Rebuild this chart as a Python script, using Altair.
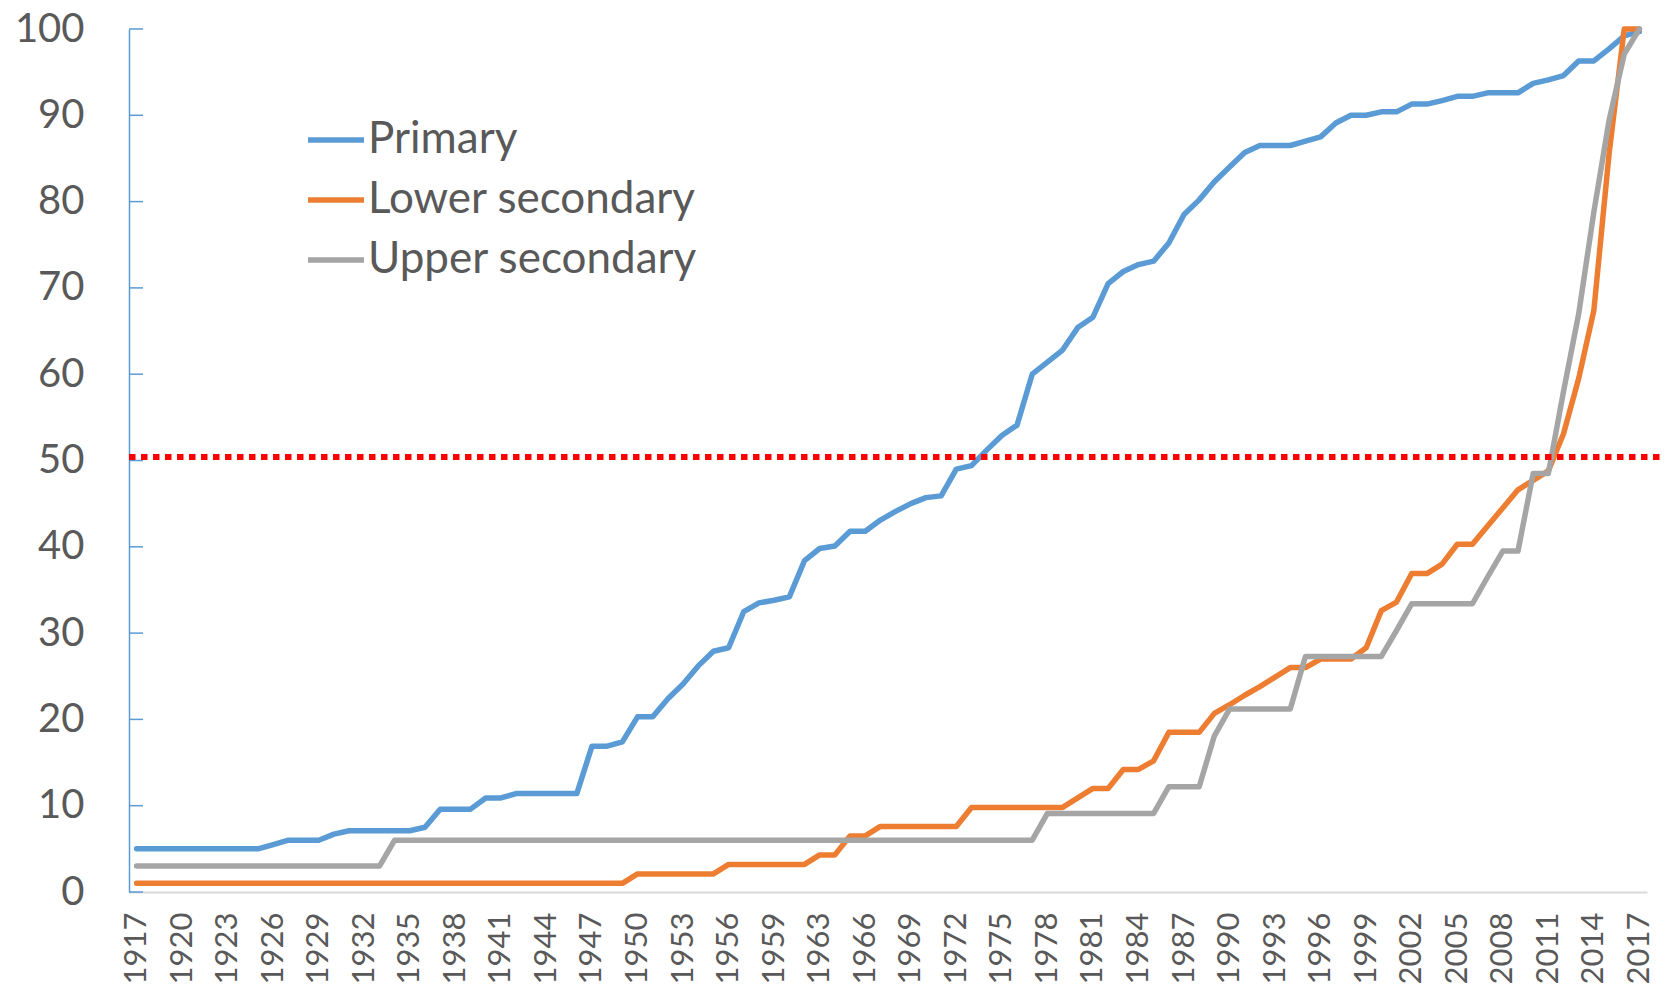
import altair as alt
import pandas as pd

# Categories (one year between 1960 and 1962 is absent in the source axis)
years = [
    1917, 1918, 1919, 1920, 1921, 1922, 1923, 1924, 1925, 1926,
    1927, 1928, 1929, 1930, 1931, 1932, 1933, 1934, 1935, 1936,
    1937, 1938, 1939, 1940, 1941, 1942, 1943, 1944, 1945, 1946,
    1947, 1948, 1949, 1950, 1951, 1952, 1953, 1954, 1955, 1956,
    1957, 1958, 1959, 1960, 1962, 1963, 1964, 1965, 1966, 1967,
    1968, 1969, 1970, 1971, 1972, 1973, 1974, 1975, 1976, 1977,
    1978, 1979, 1980, 1981, 1982, 1983, 1984, 1985, 1986, 1987,
    1988, 1989, 1990, 1991, 1992, 1993, 1994, 1995, 1996, 1997,
    1998, 1999, 2000, 2001, 2002, 2003, 2004, 2005, 2006, 2007,
    2008, 2009, 2010, 2011, 2012, 2013, 2014, 2015, 2016, 2017,
]

primary = [
    5.0, 5.0, 5.0, 5.0, 5.0, 5.0, 5.0, 5.0, 5.0, 5.5,
    6.0, 6.0, 6.0, 6.7, 7.1, 7.1, 7.1, 7.1, 7.1, 7.5,
    9.6, 9.6, 9.6, 10.9, 10.9, 11.4, 11.4, 11.4, 11.4, 11.4,
    16.9, 16.9, 17.4, 20.3, 20.3, 22.4, 24.1, 26.2, 27.9, 28.3,
    32.5, 33.5, 33.8, 34.2, 38.4, 39.8, 40.1, 41.8, 41.8, 43.1,
    44.1, 45.0, 45.7, 45.9, 49.0, 49.4, 51.2, 52.9, 54.1, 60.0,
    61.4, 62.8, 65.4, 66.6, 70.5, 71.9, 72.7, 73.1, 75.2, 78.5,
    80.2, 82.3, 84.0, 85.7, 86.5, 86.5, 86.5, 87.0, 87.5, 89.1,
    90.0, 90.0, 90.4, 90.4, 91.3, 91.3, 91.7, 92.2, 92.2, 92.6,
    92.6, 92.6, 93.7, 94.1, 94.6, 96.3, 96.3, 97.7, 99.2, 99.7,
]

lower_secondary = [
    1.0, 1.0, 1.0, 1.0, 1.0, 1.0, 1.0, 1.0, 1.0, 1.0,
    1.0, 1.0, 1.0, 1.0, 1.0, 1.0, 1.0, 1.0, 1.0, 1.0,
    1.0, 1.0, 1.0, 1.0, 1.0, 1.0, 1.0, 1.0, 1.0, 1.0,
    1.0, 1.0, 1.0, 2.1, 2.1, 2.1, 2.1, 2.1, 2.1, 3.2,
    3.2, 3.2, 3.2, 3.2, 3.2, 4.3, 4.3, 6.5, 6.5, 7.6,
    7.6, 7.6, 7.6, 7.6, 7.6, 9.8, 9.8, 9.8, 9.8, 9.8,
    9.8, 9.8, 10.9, 12.0, 12.0, 14.2, 14.2, 15.2, 18.5, 18.5,
    18.5, 20.7, 21.7, 22.8, 23.8, 24.9, 26.0, 26.0, 27.0, 27.0,
    27.0, 28.3, 32.6, 33.6, 36.9, 36.9, 38.0, 40.3, 40.3, 42.4,
    44.5, 46.6, 47.7, 48.8, 53.1, 59.5, 67.4, 85.5, 100.0, 100.0,
]

upper_secondary = [
    3.0, 3.0, 3.0, 3.0, 3.0, 3.0, 3.0, 3.0, 3.0, 3.0,
    3.0, 3.0, 3.0, 3.0, 3.0, 3.0, 3.0, 6.0, 6.0, 6.0,
    6.0, 6.0, 6.0, 6.0, 6.0, 6.0, 6.0, 6.0, 6.0, 6.0,
    6.0, 6.0, 6.0, 6.0, 6.0, 6.0, 6.0, 6.0, 6.0, 6.0,
    6.0, 6.0, 6.0, 6.0, 6.0, 6.0, 6.0, 6.0, 6.0, 6.0,
    6.0, 6.0, 6.0, 6.0, 6.0, 6.0, 6.0, 6.0, 6.0, 6.0,
    9.1, 9.1, 9.1, 9.1, 9.1, 9.1, 9.1, 9.1, 12.2, 12.2,
    12.2, 18.1, 21.2, 21.2, 21.2, 21.2, 21.2, 27.3, 27.3, 27.3,
    27.3, 27.3, 27.3, 30.3, 33.4, 33.4, 33.4, 33.4, 33.4, 36.5,
    39.5, 39.5, 48.5, 48.5, 58.0, 67.0, 78.8, 89.4, 97.1, 100.0,
]

series_names = ["Primary", "Lower secondary", "Upper secondary"]
series_colors = ["#5B9BD5", "#ED7D31", "#A5A5A5"]

x_label_years = [
    1917, 1920, 1923, 1926, 1929, 1932, 1935, 1938, 1941, 1944, 1947,
    1950, 1953, 1956, 1959, 1963, 1966, 1969, 1972, 1975, 1978, 1981,
    1984, 1987, 1990, 1993, 1996, 1999, 2002, 2005, 2008, 2011, 2014, 2017,
]
y_ticks = [0, 10, 20, 30, 40, 50, 60, 70, 80, 90, 100]
threshold = [50.4]

FONT = "Lato"
TEXT = "#595959"

rows = []
for name, vals in zip(series_names, [primary, lower_secondary, upper_secondary]):
    for i, (yr, v) in enumerate(zip(years, vals)):
        rows.append({"year": yr, "value": v, "level": name, "ord": i})
df = pd.DataFrame(rows)

y_scale = alt.Scale(domain=[0, 100], nice=False, zero=True)

lines = alt.Chart(df).mark_line(
    strokeWidth=5.5, strokeCap="round", strokeJoin="round"
).encode(
    x=alt.X(
        "year:O",
        scale=alt.Scale(type="point", padding=0.5),
        axis=alt.Axis(
            values=x_label_years,
            labelAngle=270,
            labelFont=FONT,
            labelFontSize=31,
            labelColor=TEXT,
            labelPadding=20,
            labelOverlap=False,
            ticks=False,
            domainColor="#D9D9D9",
            domainWidth=2,
            grid=False,
            title=None,
        ),
    ),
    y=alt.Y(
        "value:Q",
        scale=y_scale,
        axis=alt.Axis(
            values=y_ticks,
            labelFont=FONT,
            labelFontSize=40,
            labelColor=TEXT,
            labelPadding=45,
            ticks=False,
            domainColor="#5B9BD5",
            domainWidth=1.5,
            grid=False,
            title=None,
        ),
    ),
    color=alt.Color(
        "level:N",
        scale=alt.Scale(domain=series_names, range=series_colors),
        legend=alt.Legend(
            orient="none",
            legendX=176,
            legendY=80,
            title=None,
            symbolType="stroke",
            symbolSize=3136,
            symbolStrokeWidth=5.5,
            labelFont=FONT,
            labelFontSize=44,
            labelColor=TEXT,
            labelOffset=1,
            labelLimit=0,
            rowPadding=7,
            padding=0,
        ),
    ),
    order=alt.Order("ord:Q"),
)

tick_df = pd.DataFrame({"tick": y_ticks})
ticks = alt.Chart(tick_df).mark_rule(color="#5B9BD5", strokeWidth=1.5).encode(
    y=alt.Y("tick:Q", scale=y_scale),
    x=alt.value(0),
    x2=alt.value(14),
)

thr_df = pd.DataFrame({"thr": threshold})
red = alt.Chart(thr_df).mark_rule(
    color="#FF0000", strokeWidth=6, strokeDash=[6.5, 5.5]
).encode(
    y=alt.Y("thr:Q", scale=y_scale),
    x=alt.value(0),
    x2=alt.value(1532),
)

chart = alt.layer(ticks, lines, red).properties(
    width=1518,
    height=863,
    autosize=alt.AutoSizeParams(type="none"),
    padding={"left": 121, "top": 21, "right": 14, "bottom": 93},
).configure_view(stroke=None)

chart.save("out.html", embed_options={"renderer": "svg", "actions": False})
